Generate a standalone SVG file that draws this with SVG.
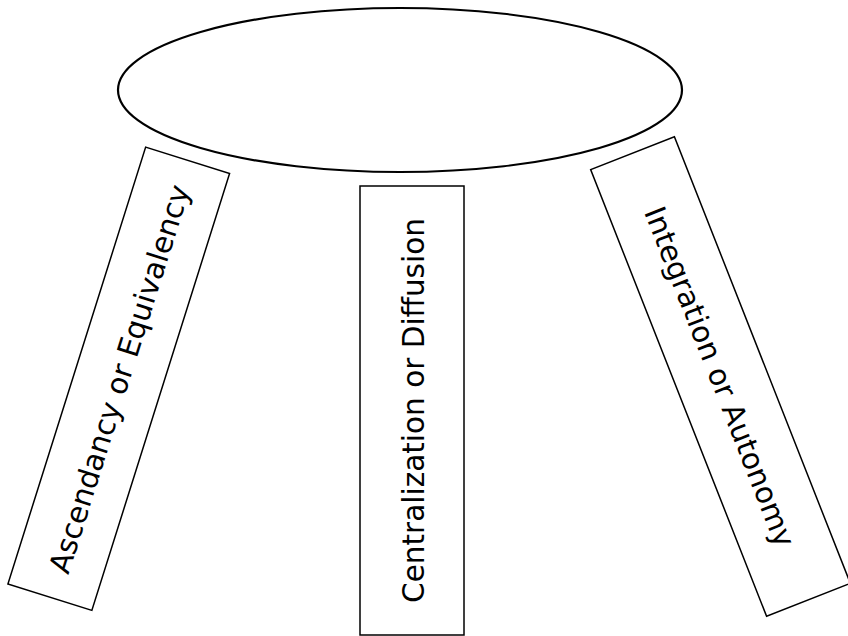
<svg xmlns="http://www.w3.org/2000/svg" width="848" height="636" viewBox="0 0 848 636">
<style>
.leg{fill:#fff;stroke:#000;stroke-width:1.5}
.lbl{font-family:"DejaVu Sans","Liberation Sans",sans-serif;font-size:29.5px;fill:#000;text-anchor:middle}
</style>
<rect width="848" height="636" fill="#fff"/>
<g id="connectors"/>
<g id="leg-left" transform="translate(118.75,378.75) rotate(17.5)">
<rect class="leg" x="-44" y="-229" width="88" height="458"/>
<text class="lbl" transform="rotate(-90)" x="0" y="11">Ascendancy or Equivalency</text>
</g>
<g id="leg-middle" transform="translate(412,410.5)">
<rect class="leg" x="-52" y="-224.5" width="104" height="449"/>
<text class="lbl" transform="rotate(-90)" x="0" y="12">Centralization or Diffusion</text>
</g>
<g id="leg-right" transform="translate(720.5,376.5) rotate(-21.5)">
<rect class="leg" x="-45" y="-240" width="90" height="480"/>
<text class="lbl" transform="rotate(90)" x="0" y="11">Integration or Autonomy</text>
</g>
<g id="top">
<ellipse cx="400" cy="90" rx="282" ry="82" fill="#fff" stroke="#000" stroke-width="2.2"/>
</g>
</svg>
